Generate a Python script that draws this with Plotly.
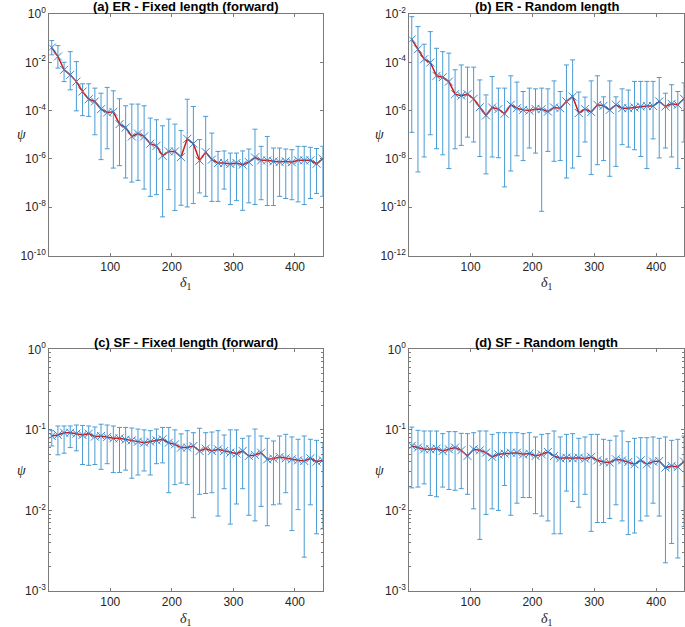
import numpy as np
import plotly.graph_objects as go

# ---------------- data (stored as log10(psi)) ----------------
delta1 = [5, 15, 25, 35, 45, 55, 65, 75, 85, 95,
          105, 115, 125, 135, 145, 155, 165, 175, 185, 195,
          205, 215, 225, 235, 245, 255, 265, 275, 285, 295,
          305, 315, 325, 335, 345, 355, 365, 375, 385, 395,
          405, 415, 425, 435, 445]

# (a) ER - Fixed length (forward)
er_fixed_mean = [-1.39, -1.76, -2.31, -2.52, -2.80, -3.21, -3.53, -3.62, -3.94, -4.08,
                 -4.05, -4.56, -4.70, -5.07, -4.95, -5.07, -5.37, -5.46, -5.87, -5.69,
                 -5.69, -5.92, -5.17, -5.37, -6.07, -5.72, -6.03, -6.17, -6.17, -6.21,
                 -6.17, -6.24, -6.13, -5.94, -6.06, -6.06, -6.10, -6.13, -6.10, -6.14,
                 -6.06, -6.06, -6.06, -6.20, -6.00]
er_fixed_upper = [-1.10, -1.31, -2.00, -1.56, -1.97, -2.89, -2.89, -3.07, -3.28, -3.04,
                  -3.18, -3.51, -3.80, -3.73, -3.73, -3.80, -4.31, -4.38, -4.63, -4.35,
                  -4.56, -4.83, -3.53, -3.83, -5.20, -4.24, -4.93, -5.69, -5.67, -5.76,
                  -5.76, -5.67, -5.59, -4.77, -5.48, -5.07, -5.55, -5.55, -5.59, -5.62,
                  -5.48, -5.48, -5.52, -5.57, -5.48]
er_fixed_lower = [-1.69, -2.24, -2.80, -3.14, -4.01, -4.21, -4.24, -5.00, -6.03, -5.58,
                  -6.38, -6.28, -6.79, -6.96, -6.89, -7.25, -7.55, -7.48, -8.40, -7.27,
                  -8.14, -7.92, -7.99, -7.85, -7.41, -7.55, -7.76, -7.76, -7.25, -7.89,
                  -7.73, -8.13, -7.82, -7.89, -7.69, -7.93, -7.93, -7.55, -7.64, -7.69,
                  -7.78, -7.89, -7.64, -7.43, -7.55]

# (b) ER - Random length
er_random_mean = [-3.05, -3.46, -3.87, -4.01, -4.56, -4.62, -4.80, -5.32, -5.38, -5.32,
                  -5.51, -5.86, -6.20, -5.87, -5.94, -6.13, -5.76, -5.90, -5.97, -6.00,
                  -5.93, -5.94, -6.04, -5.87, -5.90, -5.62, -5.42, -6.10, -5.94, -6.06,
                  -5.76, -5.80, -5.97, -5.76, -5.90, -5.90, -5.87, -5.83, -5.81, -5.81,
                  -5.62, -5.83, -5.72, -5.76, -5.51]
er_random_upper = [-2.11, -2.52, -3.25, -2.73, -3.42, -3.56, -3.62, -4.31, -4.11, -4.20,
                   -4.20, -4.73, -5.35, -4.59, -5.07, -5.07, -4.56, -4.82, -5.21, -5.07,
                   -5.10, -5.07, -5.10, -4.77, -5.21, -4.11, -3.90, -5.23, -5.44, -4.77,
                   -4.56, -5.43, -4.77, -5.43, -5.10, -5.15, -4.79, -4.79, -4.79, -4.79,
                   -4.63, -5.28, -4.93, -5.21, -4.85]
er_random_lower = [-6.90, -8.54, -7.92, -7.00, -7.58, -7.83, -8.40, -7.58, -7.44, -7.10,
                   -7.30, -7.90, -8.62, -7.92, -7.95, -9.16, -8.50, -7.87, -8.07, -7.55,
                   -7.76, -10.17, -7.69, -8.10, -8.07, -8.79, -8.38, -7.90, -7.30, -8.65,
                   -8.24, -8.07, -8.72, -8.31, -7.41, -7.51, -7.62, -7.90, -8.40, -7.17,
                   -7.96, -7.55, -7.92, -8.40, -7.30]

# (c) SF - Fixed length (forward)
sf_fixed_mean = [-1.076, -1.064, -1.035, -1.035, -1.047, -1.064, -1.047, -1.084, -1.076, -1.088,
                 -1.105, -1.105, -1.121, -1.130, -1.146, -1.159, -1.146, -1.130, -1.117, -1.159,
                 -1.180, -1.220, -1.220, -1.200, -1.262, -1.233, -1.262, -1.241, -1.262, -1.283,
                 -1.295, -1.262, -1.324, -1.311, -1.283, -1.365, -1.357, -1.336, -1.353, -1.365,
                 -1.378, -1.386, -1.353, -1.394, -1.378]
sf_fixed_upper = [-1.010, -0.952, -0.952, -0.952, -0.940, -0.945, -0.952, -0.964, -0.930, -0.940,
                  -0.952, -0.970, -0.970, -0.977, -0.990, -1.000, -1.010, -0.990, -0.970, -0.970,
                  -1.000, -1.050, -1.010, -1.035, -0.980, -1.035, -1.027, -1.010, -1.064, -1.000,
                  -1.000, -1.105, -1.076, -0.990, -1.076, -1.105, -1.138, -1.076, -1.055, -1.088,
                  -1.117, -1.076, -1.117, -1.130, -1.159]
sf_fixed_lower = [-1.20, -1.31, -1.29, -1.22, -1.26, -1.43, -1.44, -1.43, -1.49, -1.42,
                  -1.53, -1.53, -1.50, -1.60, -1.56, -1.51, -1.56, -1.42, -1.41, -1.78,
                  -1.68, -1.66, -1.68, -2.09, -1.80, -1.79, -1.78, -2.07, -1.73, -2.17,
                  -1.92, -1.73, -2.06, -2.13, -1.95, -2.19, -1.93, -1.92, -1.78, -2.25,
                  -1.99, -2.58, -1.93, -2.29, -2.23]

# (d) SF - Random length
sf_random_mean = [-1.200, -1.220, -1.241, -1.241, -1.233, -1.262, -1.241, -1.220, -1.254, -1.324,
                  -1.241, -1.254, -1.283, -1.336, -1.304, -1.295, -1.283, -1.283, -1.304, -1.295,
                  -1.324, -1.304, -1.274, -1.324, -1.353, -1.345, -1.353, -1.345, -1.357, -1.336,
                  -1.378, -1.398, -1.406, -1.365, -1.378, -1.398, -1.427, -1.378, -1.427, -1.394,
                  -1.386, -1.468, -1.448, -1.460, -1.394]
sf_random_upper = [-0.965, -1.006, -1.014, -1.014, -1.014, -1.047, -1.022, -1.022, -1.043, -1.047,
                   -1.035, -1.014, -1.014, -1.056, -1.035, -1.035, -1.035, -1.035, -1.047, -1.035,
                   -1.088, -1.056, -1.047, -1.014, -1.088, -1.056, -1.047, -1.105, -1.088, -1.056,
                   -1.056, -1.117, -1.130, -1.076, -1.014, -1.146, -1.105, -1.097, -1.097, -1.088,
                   -1.105, -1.088, -1.130, -1.117, -1.076]
sf_random_lower = [-1.72, -1.71, -1.67, -1.815, -1.83, -1.71, -1.74, -1.75, -1.73, -1.80,
                   -1.98, -2.36, -2.05, -1.98, -2.00, -1.69, -2.06, -1.91, -1.84, -1.84,
                   -2.04, -2.07, -2.13, -2.29, -2.29, -1.76, -1.89, -1.96, -1.80, -2.26,
                   -2.15, -2.15, -2.10, -1.93, -2.13, -2.30, -2.28, -2.13, -2.07, -1.91,
                   -2.07, -2.65, -2.41, -2.59, -2.20]

titles = ["(a) ER - Fixed length (forward)", "(b) ER - Random length",
          "(c) SF - Fixed length (forward)", "(d) SF - Random length"]

x_tickvals = [100, 200, 300, 400]
x_ticktext = ["100", "200", "300", "400"]

ytick_exp_a = [0, -2, -4, -6, -8, -10]
ytick_exp_b = [-2, -4, -6, -8, -10, -12]
ytick_exp_cd = [0, -1, -2, -3]

# ---------------- styling / layout ----------------
W, H = 685, 627
BLUE = "#4a9bd4"
BLUE_M = "#3d86cc"
RED = "#cc1a1a"
AX = "#7a7a7a"
TXT = "#262626"
FONT = "Arial, Liberation Sans, Helvetica, sans-serif"
SERIF = "Liberation Serif, Times New Roman, serif"

# pixel boxes of the four axes: (left, right, top, bottom)
boxes = [(49.3, 322.7, 14.0, 255.5), (409.3, 684.0, 14.0, 255.5),
         (49.3, 322.7, 349.3, 591.0), (409.3, 684.0, 349.3, 591.0)]

panels = [
    (er_fixed_mean, er_fixed_upper, er_fixed_lower, [-10, 0], ytick_exp_a, False),
    (er_random_mean, er_random_upper, er_random_lower, [-12, -2], ytick_exp_b, False),
    (sf_fixed_mean, sf_fixed_upper, sf_fixed_lower, [-3, 0], ytick_exp_cd, True),
    (sf_random_mean, sf_random_upper, sf_random_lower, [-3, 0], ytick_exp_cd, True),
]

fig = go.Figure()
layout = dict(width=W, height=H, margin=dict(l=0, r=0, t=0, b=0, autoexpand=False),
              paper_bgcolor="white", plot_bgcolor="white", showlegend=False,
              font=dict(family=FONT, size=12, color=TXT))
annotations = []

x = np.array(delta1, dtype=float)
for i, (m, up, lo, yr, yexp, minor) in enumerate(panels):
    k = "" if i == 0 else str(i + 1)
    psi = 10.0 ** np.array(m)
    hi = 10.0 ** np.array(up)
    low = 10.0 ** np.array(lo)
    fig.add_trace(go.Scatter(
        x=x, y=psi, mode="markers", xaxis="x" + k, yaxis="y" + k,
        marker=dict(symbol="x-thin", size=0.1, line=dict(width=0), color=BLUE),
        error_y=dict(type="data", symmetric=False, array=hi - psi, arrayminus=psi - low,
                     color=BLUE, thickness=1, width=2.5),
    ))
    fig.add_trace(go.Scatter(
        x=x, y=psi, mode="lines", xaxis="x" + k, yaxis="y" + k,
        line=dict(color=RED, width=1.5),
    ))
    fig.add_trace(go.Scatter(
        x=x, y=psi, mode="markers", xaxis="x" + k, yaxis="y" + k,
        marker=dict(symbol="x-thin", size=8, line=dict(width=1, color=BLUE_M), color=BLUE_M),
    ))
    l, r, t, b = boxes[i]
    xd = [l / W, r / W]
    yd = [1 - b / H, 1 - t / H]
    layout["xaxis" + k] = dict(
        domain=xd, range=[1, 445], anchor="y" + k, showgrid=False, zeroline=False,
        showline=True, linecolor=AX, linewidth=1, mirror="ticks",
        ticks="inside", ticklen=3, tickcolor=AX, tickvals=x_tickvals, ticktext=x_ticktext,
        tickfont=dict(size=12, color=TXT, family=FONT), automargin=False,
    )
    yaxis = dict(
        domain=yd, type="log", range=yr, anchor="x" + k, showgrid=False, zeroline=False,
        showline=True, linecolor=AX, linewidth=1, mirror="ticks",
        ticks="inside", ticklen=3, tickcolor=AX,
        tickvals=[10.0 ** e for e in yexp],
        ticktext=["10<sup>%d</sup>" % e for e in yexp],
        tickfont=dict(size=12, color=TXT, family=FONT), automargin=False,
    )
    if minor:
        mv = []
        for e in range(yr[0], yr[1]):
            for d in range(2, 10):
                mv.append(d * 10.0 ** e)
        yaxis["minor"] = dict(ticks="inside", ticklen=2, tickcolor=AX, tickvals=mv, showgrid=False)
    layout["yaxis" + k] = yaxis

    cx = (l + r) / 2
    annotations.append(dict(text="<b>%s</b>" % titles[i], x=cx / W, y=1 - (t - 7.0) / H,
                            xref="paper", yref="paper", showarrow=False,
                            xanchor="center", yanchor="middle",
                            font=dict(size=13, color="black", family=FONT)))
    annotations.append(dict(text="<i>δ</i><sub>1</sub>", x=cx / W, y=1 - (b + 28) / H,
                            xref="paper", yref="paper", showarrow=False,
                            xanchor="center", yanchor="middle",
                            font=dict(size=14, color=TXT, family=SERIF)))
    annotations.append(dict(text="<i>ψ</i>", x=(l - 28 if i % 2 == 0 else l - 30) / W,
                            y=1 - ((t + b) / 2) / H,
                            xref="paper", yref="paper", showarrow=False,
                            xanchor="center", yanchor="middle",
                            font=dict(size=14, color=TXT, family=SERIF)))

layout["annotations"] = annotations
fig.update_layout(**layout)
fig.write_html("out.html",
               config={"displayModeBar": False},
               post_script="document.body.style.margin='0';document.body.style.overflow='hidden';")
